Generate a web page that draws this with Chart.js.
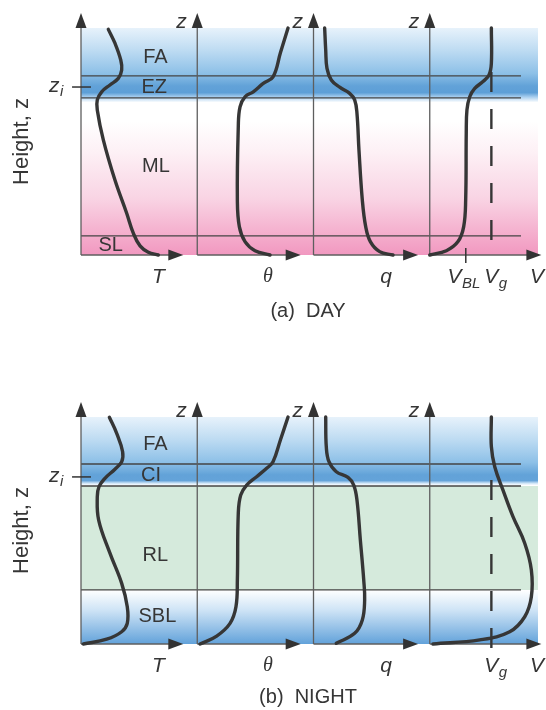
<!DOCTYPE html>
<html>
<head>
<meta charset="utf-8">
<script src="https://cdn.jsdelivr.net/npm/chart.js@4.4.1/dist/chart.umd.min.js"></script>
<style>
    body { margin: 0; background: #fff; width: 546px; height: 710px; overflow: hidden; }
    .panel { position: relative; width: 546px; height: 355px; }
</style>
</head>
<body>
<div class="panel"><canvas id="dayChart"></canvas></div>
<div class="panel"><canvas id="nightChart"></canvas></div>
<script>
// x runs 0..4: one unit per profile panel (T, theta, q, V); z runs 0..1 (surface to top of diagram)
const panelAxes = [0, 1, 2, 3];
const panelArrowEnds = [0.88, 1.89, 2.9, 3.96];
const varLabels = ['T', 'θ', 'q', 'V'];
const varLabelX = [0.667, 1.608, 2.624, 3.923];
const vgX = 3.53;

// DAY
const dayLayerNames = ['FA', 'EZ', 'ML', 'SL'];
const dayLayerX = [0.64, 0.63, 0.645, 0.255];
const dayLayerZ = [0.872, 0.738, 0.39, 0.04];
const dayBoundaries = [0.789, 0.692, 0.084];
const dayZi = 0.74;
const dayVBL = 3.31;
const dayVg = [0.806, 0.044];
const dayT = [[0.235, 0.994], [0.292, 0.933], [0.342, 0.859], [0.350, 0.815], [0.321, 0.778], [0.249, 0.749],
    [0.178, 0.719], [0.140, 0.683], [0.140, 0.639], [0.192, 0.507], [0.292, 0.330], [0.393, 0.184],
    [0.450, 0.096], [0.508, 0.040], [0.579, 0.012], [0.665, 0]];
const dayTheta = [[1.781, 1.0], [1.716, 0.892], [1.652, 0.785], [1.568, 0.756], [1.482, 0.719], [1.411, 0.697],
    [1.368, 0.653], [1.353, 0.565], [1.345, 0.242], [1.362, 0.125], [1.411, 0.059], [1.497, 0.019], [1.626, 0]];
const dayQ = [[2.096, 1.0], [2.105, 0.903], [2.116, 0.822], [2.153, 0.771], [2.225, 0.739], [2.311, 0.712],
    [2.354, 0.683], [2.374, 0.624], [2.391, 0.463], [2.420, 0.242], [2.449, 0.125], [2.489, 0.059],
    [2.569, 0.015], [2.684, 0]];
const dayV = [[3.530, 1.0], [3.530, 0.844], [3.510, 0.793], [3.458, 0.764], [3.387, 0.734], [3.344, 0.697],
    [3.320, 0.639], [3.314, 0.536], [3.309, 0.242], [3.292, 0.125], [3.243, 0.059], [3.143, 0.019], [3.0, 0]];

// NIGHT
const nightLayerNames = ['FA', 'CI', 'RL', 'SBL'];
const nightLayerX = [0.64, 0.603, 0.64, 0.657];
const nightLayerZ = [0.877, 0.742, 0.392, 0.121];
const nightBoundaries = [0.793, 0.696, 0.238];
const nightZi = 0.736;
const nightVg = [0.722, -0.04];
const nightT = [[0.244, 0.999], [0.307, 0.928], [0.358, 0.847], [0.350, 0.803], [0.292, 0.770], [0.206, 0.730],
    [0.155, 0.693], [0.140, 0.649], [0.152, 0.546], [0.249, 0.400], [0.350, 0.267], [0.398, 0.164],
    [0.398, 0.091], [0.350, 0.054], [0.221, 0.021], [0.020, 0]];
const nightTheta = [[1.781, 1.0], [1.716, 0.9], [1.652, 0.803], [1.597, 0.774], [1.511, 0.737], [1.425, 0.700],
    [1.374, 0.656], [1.353, 0.576], [1.345, 0.282], [1.333, 0.164], [1.282, 0.091], [1.167, 0.035], [1.024, 0]];
const nightQ = [[2.105, 1.0], [2.110, 0.869], [2.133, 0.803], [2.196, 0.759], [2.297, 0.734], [2.346, 0.700],
    [2.374, 0.634], [2.403, 0.458], [2.432, 0.282], [2.440, 0.194], [2.420, 0.106], [2.354, 0.047], [2.196, 0.003]];
const nightV = [[3.530, 1.0], [3.530, 0.869], [3.559, 0.781], [3.630, 0.678], [3.716, 0.561], [3.817, 0.444],
    [3.874, 0.326], [3.874, 0.208], [3.817, 0.120], [3.688, 0.054], [3.430, 0.018], [3.028, 0]];

const SANS = '"Liberation Sans", Arial, sans-serif';
const INK = '#363636';

document.addEventListener('DOMContentLoaded', () => {
    renderProfiles('dayChart', {
        padding: { left: 81, right: 0, top: 28, bottom: 100 },
        curves: [dayT, dayTheta, dayQ, dayV],
        vg: dayVg,
        layerNames: dayLayerNames, layerX: dayLayerX, layerZ: dayLayerZ,
        boundaries: dayBoundaries,
        zi: dayZi,
        vbl: dayVBL,
        caption: '(a)  DAY', captionZ: -0.248,
        bgStops: [[1.0, '#e7f2fb'], [0.9, '#bddbf2'], [0.8, '#8dc0e7'], [0.745, '#62a2d8'], [0.715, '#5d9fd7'],
            [0.695, '#acd1f0'], [0.672, '#ffffff'], [0.59, '#ffffff'], [0.45, '#fdf0f5'], [0.25, '#f9d4e4'],
            [0.08, '#f4abcb'], [0.0, '#f198c0']]
    });
    renderProfiles('nightChart', {
        padding: { left: 81, right: 0, top: 62, bottom: 66 },
        curves: [nightT, nightTheta, nightQ, nightV],
        vg: nightVg,
        layerNames: nightLayerNames, layerX: nightLayerX, layerZ: nightLayerZ,
        boundaries: nightBoundaries,
        zi: nightZi,
        vbl: null,
        caption: '(b)  NIGHT', captionZ: -0.235,
        bgStops: [[1.0, '#e7f2fb'], [0.9, '#bddbf2'], [0.8, '#8dc0e7'], [0.745, '#62a2d8'], [0.72, '#64a3d9'],
            [0.708, '#cfe5f7'], [0.699, '#ffffff'], [0.6965, '#ffffff'], [0.696, '#d5eadc'], [0.2385, '#d5eadc'],
            [0.238, '#ffffff'], [0.15, '#cfe4f6'], [0.0, '#62a2da']]
    });
});

function renderProfiles(canvasId, spec) {
    const datasets = spec.curves.map(c => ({
        data: c.map(p => ({ x: p[0], y: p[1] })),
        showLine: true,
        borderColor: INK,
        borderWidth: 3.4,
        borderCapStyle: 'round',
        borderJoinStyle: 'round',
        tension: 0.4,
        pointRadius: 0,
        fill: false,
        clip: false
    }));
    // geostrophic wind, dashed
    datasets.push({
        data: spec.vg.map(z => ({ x: vgX, y: z })),
        showLine: true,
        borderColor: INK,
        borderWidth: 2.4,
        borderDash: [20, 17],
        pointRadius: 0,
        clip: false
    });

    new Chart(document.getElementById(canvasId), {
        type: 'scatter',
        data: { datasets },
        options: {
            responsive: true,
            maintainAspectRatio: false,
            animation: false,
            events: [],
            layout: { padding: spec.padding },
            plugins: { legend: { display: false }, tooltip: { enabled: false } },
            scales: {
                x: { type: 'linear', min: 0, max: 4, display: false },
                y: { type: 'linear', min: 0, max: 1, display: false }
            }
        },
        plugins: [makeDiagram(spec)]
    });
}

function makeDiagram(spec) {
    const BG_RIGHT = 3.931, LINE_RIGHT = 3.785, AXIS_TOP = 1.066;

    const seg = (ctx, x1, y1, x2, y2) => {
        ctx.beginPath(); ctx.moveTo(x1, y1); ctx.lineTo(x2, y2); ctx.stroke();
    };
    const arrow = (ctx, x, y, dir) => {
        const len = 15, hw = 5.5;
        ctx.beginPath();
        if (dir === 'up') {
            ctx.moveTo(x, y); ctx.lineTo(x - hw, y + len); ctx.lineTo(x + hw, y + len);
        } else {
            ctx.moveTo(x, y); ctx.lineTo(x - len, y - hw); ctx.lineTo(x - len, y + hw);
        }
        ctx.closePath(); ctx.fill();
    };
    const subText = (ctx, main, sub, cx, cy, size) => {
        ctx.font = `italic ${size}px ${SANS}`;
        const w1 = ctx.measureText(main).width;
        ctx.font = `italic ${Math.round(size * 0.72)}px ${SANS}`;
        const w2 = ctx.measureText(sub).width;
        const left = cx - (w1 + w2) / 2;
        ctx.textAlign = 'left';
        ctx.font = `italic ${size}px ${SANS}`;
        ctx.fillText(main, left, cy);
        ctx.font = `italic ${Math.round(size * 0.72)}px ${SANS}`;
        ctx.fillText(sub, left + w1 + 0.5, cy + size * 0.3);
    };

    return {
        id: 'diagram',
        beforeDatasetsDraw(chart) {
            const { ctx } = chart;
            const X = v => chart.scales.x.getPixelForValue(v);
            const Y = v => chart.scales.y.getPixelForValue(v);
            ctx.save();

            // layer shading
            const g = ctx.createLinearGradient(0, Y(1), 0, Y(0));
            spec.bgStops.forEach(([z, c]) => g.addColorStop(1 - z, c));
            ctx.fillStyle = g;
            ctx.fillRect(X(0), Y(1), X(BG_RIGHT) - X(0), Y(0) - Y(1));

            // layer boundaries
            ctx.strokeStyle = '#454545';
            ctx.lineWidth = 1.3;
            spec.boundaries.forEach(z => seg(ctx, X(0), Y(z), X(LINE_RIGHT), Y(z)));

            // panel axes
            ctx.strokeStyle = '#5e5e5e';
            ctx.fillStyle = '#333';
            ctx.lineWidth = 1.3;
            panelAxes.forEach((p, i) => {
                seg(ctx, X(p), Y(0), X(p), Y(AXIS_TOP) + 10);
                arrow(ctx, X(p), Y(AXIS_TOP), 'up');
                seg(ctx, X(p), Y(0), X(panelArrowEnds[i]) - 10, Y(0));
                arrow(ctx, X(panelArrowEnds[i]), Y(0), 'right');
            });

            // z_i tick and V_BL tick
            ctx.strokeStyle = '#333';
            ctx.lineWidth = 1.5;
            seg(ctx, X(-0.077), Y(spec.zi), X(0.086), Y(spec.zi));
            if (spec.vbl !== null) seg(ctx, X(spec.vbl), Y(-0.035), X(spec.vbl), Y(0.031));
            ctx.restore();
        },
        afterDatasetsDraw(chart) {
            const { ctx } = chart;
            const X = v => chart.scales.x.getPixelForValue(v);
            const Y = v => chart.scales.y.getPixelForValue(v);
            ctx.save();
            ctx.fillStyle = INK;
            ctx.textBaseline = 'middle';
            ctx.textAlign = 'center';

            // layer names
            ctx.font = `20px ${SANS}`;
            spec.layerNames.forEach((n, i) => ctx.fillText(n, X(spec.layerX[i]), Y(spec.layerZ[i])));

            // z labels on the top of panel axes 2..4
            ctx.font = `italic 21px ${SANS}`;
            panelAxes.slice(1).forEach(p => ctx.fillText('z', X(p - 0.135), Y(1.025)));

            // variable labels under the axes
            varLabels.forEach((v, i) => {
                ctx.font = v === 'θ' ? `italic 20px "Liberation Serif", "Times New Roman", serif` : `italic 21px ${SANS}`;
                ctx.fillText(v, X(varLabelX[i]), Y(-0.098));
            });
            subText(ctx, 'V', 'g', X(vgX) + 4, Y(-0.098), 21);
            if (spec.vbl !== null) subText(ctx, 'V', 'BL', X(spec.vbl) - 2, Y(-0.098), 21);

            // z_i
            subText(ctx, 'z', 'i', X(-0.215), Y(spec.zi) - 1, 21);

            // height axis title
            ctx.save();
            ctx.translate(X(-0.508), Y(0.5));
            ctx.rotate(-Math.PI / 2);
            ctx.font = `22px ${SANS}`;
            ctx.textAlign = 'center';
            ctx.fillText('Height, z', 0, 0);
            ctx.restore();

            // caption
            ctx.font = `20px ${SANS}`;
            ctx.textAlign = 'center';
            ctx.fillText(spec.caption, 308, Y(spec.captionZ));
            ctx.restore();
        }
    };
}
</script>
</body>
</html>
